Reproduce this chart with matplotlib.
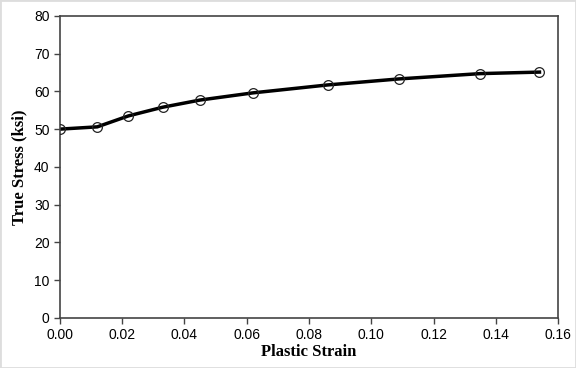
import matplotlib.pyplot as plt

# datos
strain = [0.0, 0.012, 0.022, 0.033, 0.045, 0.062, 0.086, 0.109, 0.135, 0.154]
stress = [50.0, 50.6, 53.5, 55.8, 57.7, 59.6, 61.7, 63.3, 64.7, 65.1]
x_ticks = [0.00, 0.02, 0.04, 0.06, 0.08, 0.10, 0.12, 0.14, 0.16]
y_ticks = [0, 10, 20, 30, 40, 50, 60, 70, 80]

fig = plt.figure(figsize=(5.76, 3.68), dpi=100)
ax = fig.add_axes([0.104, 0.136, 0.865, 0.821])

ax.plot(strain, stress, '-', color='black', linewidth=2.5, zorder=2)
ax.plot(strain, stress, 'o', markersize=7, markerfacecolor='none',
        markeredgecolor='#222222', markeredgewidth=0.9, zorder=3)

ax.set_xlim(0, 0.16)
ax.set_ylim(0, 80)
ax.set_xticks(x_ticks)
ax.set_xticklabels(['%.2f' % v for v in x_ticks])
ax.set_yticks(y_ticks)

for s in ax.spines.values():
    s.set_color('#444444')
    s.set_linewidth(1.2)
ax.tick_params(direction='out', length=4, width=1, colors='#444444',
               labelcolor='black', labelsize=10)
for lbl in ax.get_xticklabels() + ax.get_yticklabels():
    lbl.set_family('Liberation Sans')

ax.set_xlabel('Plastic Strain', family='Liberation Serif', fontsize=12,
              fontweight='bold', labelpad=1)
ax.set_ylabel('True Stress (ksi)', family='Liberation Serif', fontsize=12,
              fontweight='bold', labelpad=5)

# borde exterior gris
fig.patches.append(plt.Rectangle((0, 0), 1, 1, transform=fig.transFigure,
                                 fill=False, edgecolor='#dddddd', linewidth=2))

fig.savefig('out.png', dpi=100)
